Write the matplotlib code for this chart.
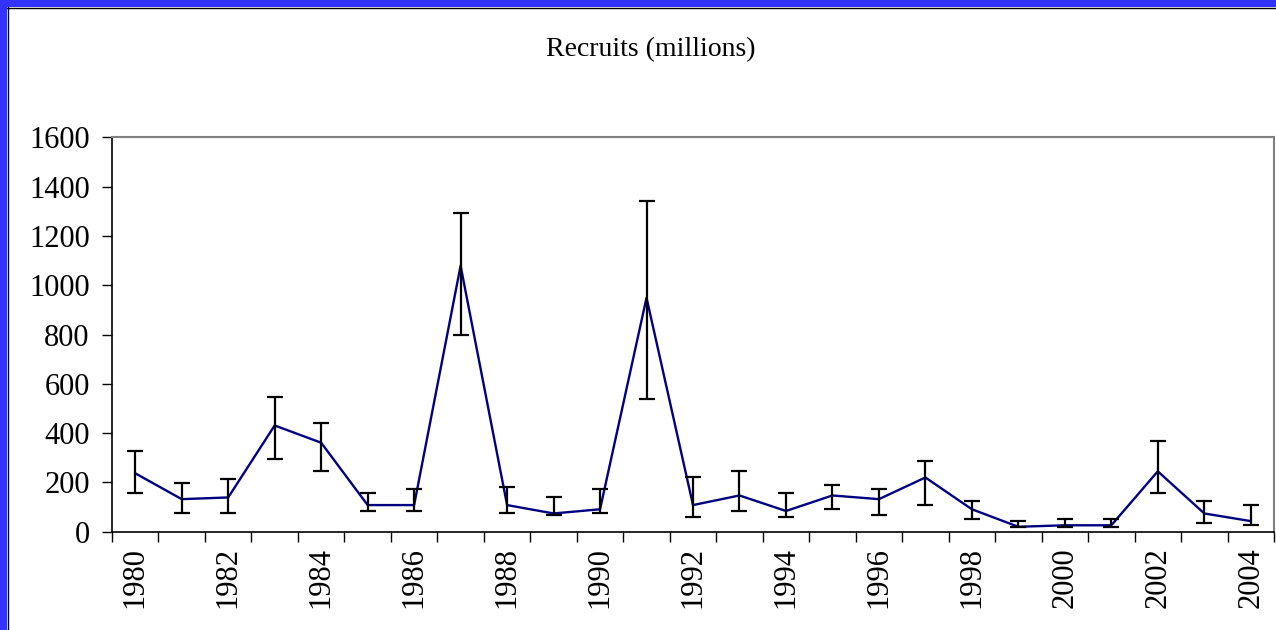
import matplotlib.pyplot as plt
from matplotlib.patches import Rectangle
from matplotlib.lines import Line2D
import numpy as np

years = list(range(1980, 2005))
recruits = [237, 132, 139, 431, 361, 108, 108, 1079, 108, 74, 91, 949, 108,
            147, 84, 147, 132, 220, 91, 20, 26, 26, 245, 74, 43]
upper = [326, 196, 212, 546, 440, 156, 172, 1291, 181, 139, 172, 1341, 220,
         246, 156, 188, 172, 285, 124, 42, 50, 50, 366, 124, 107]
lower = [156, 74, 74, 293, 246, 84, 84, 796, 74, 66, 74, 538, 58,
         84, 58, 91, 66, 107, 50, 18, 18, 18, 156, 34, 26]

plt.rcParams['font.family'] = ['Liberation Serif', 'DejaVu Serif']

fig = plt.figure(figsize=(12.76, 6.30), dpi=100)
fig.patch.set_facecolor('white')

# blue frame on the left and top edges
fig.patches.append(Rectangle((0, 0), 7 / 1276, 1, transform=fig.transFigure,
                             facecolor='#3333FF', edgecolor='none', zorder=0))
fig.patches.append(Rectangle((0, 1 - 7 / 630), 1, 7 / 630, transform=fig.transFigure,
                             facecolor='#3333FF', edgecolor='none', zorder=0))
fig.lines.append(Line2D([7.5 / 1276, 7.5 / 1276], [0, 1 - 7 / 630], transform=fig.transFigure,
                        color='black', lw=1))
fig.lines.append(Line2D([7 / 1276, 1], [1 - 7.5 / 630, 1 - 7.5 / 630], transform=fig.transFigure,
                        color='black', lw=1))

ax = fig.add_axes([112 / 1276, 1 - 531.7 / 630, 1162 / 1276, 394.4 / 630])

x = np.arange(len(years))
y = np.array(recruits)
yerr = [y - np.array(lower), np.array(upper) - y]

ax.plot(x, y, color='#000080', lw=1.7, zorder=3)
ax.errorbar(x, y, yerr=yerr, fmt='none', ecolor='black', elinewidth=1.6,
            capsize=5.5, capthick=1.6, zorder=4)

ax.set_xlim(-0.5, len(years) - 0.5)
ax.set_ylim(0, 1600)
ax.set_yticks(range(0, 1601, 200))

# tick marks at category boundaries, labels on every other year
ax.set_xticks(np.arange(-0.5, len(years), 1.0))
ax.set_xticklabels([])
ax.set_xticks(x[::2], minor=True)
ax.set_xticklabels([str(v) for v in years[::2]], minor=True, rotation=90)
ax.tick_params(axis='x', which='major', length=7, width=1, direction='out')
ax.tick_params(axis='x', which='minor', length=0, pad=11, labelsize=22)
ax.tick_params(axis='y', length=7, width=1, direction='out', labelsize=22, pad=9)

for side in ['left', 'bottom']:
    ax.spines[side].set_color('black')
    ax.spines[side].set_linewidth(1.2)
for side in ['top', 'right']:
    ax.spines[side].set_color('#808080')
    ax.spines[side].set_linewidth(1.5)

fig.text(651 / 1276, 1 - 50 / 630, 'Recruits (millions)', ha='center', va='center', fontsize=20)

fig.savefig('out.png', dpi=100)
